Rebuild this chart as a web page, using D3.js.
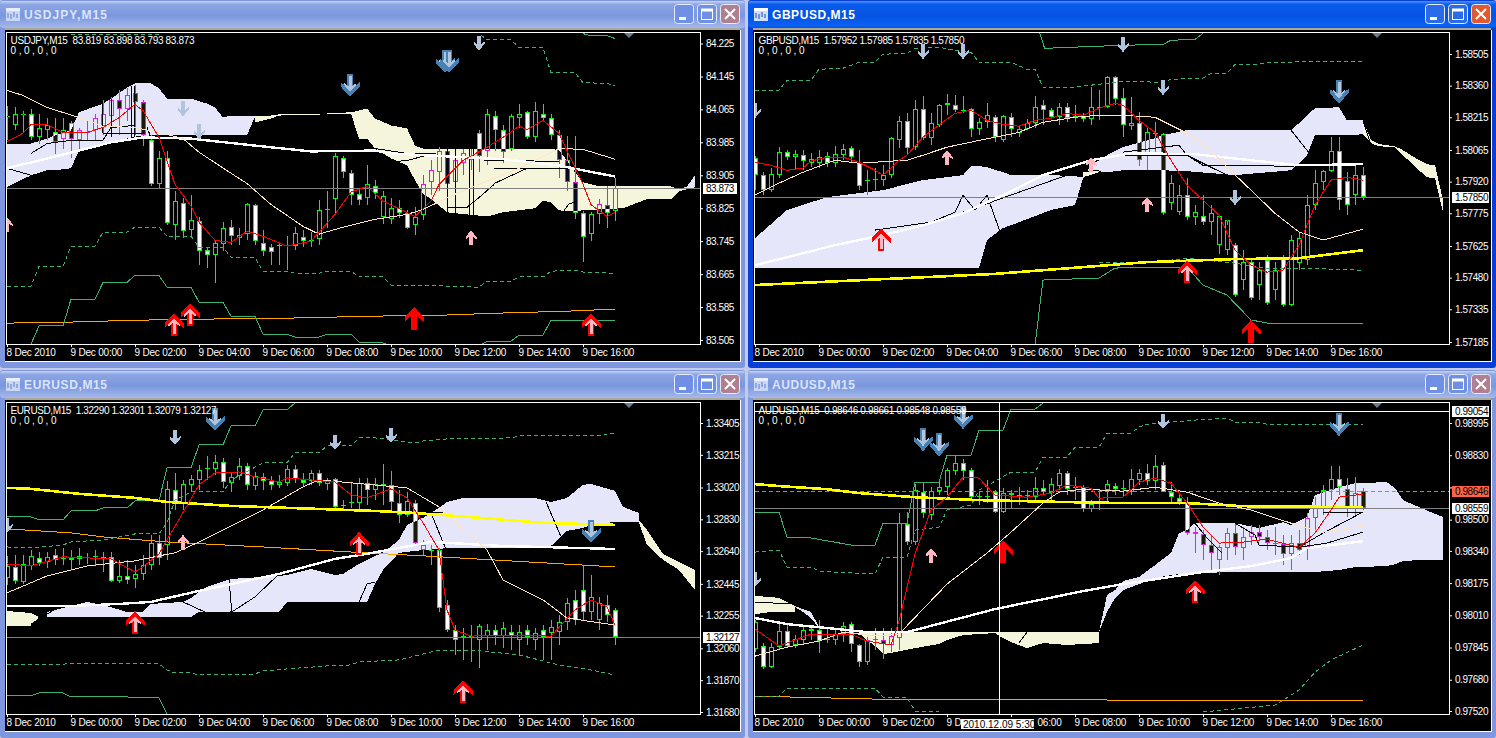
<!DOCTYPE html>
<html><head><meta charset="utf-8">
<script src="https://cdnjs.cloudflare.com/ajax/libs/d3/7.8.5/d3.min.js"></script>
<style>
html,body{margin:0;padding:0;background:#c3cbe8;overflow:hidden}
svg{display:block}
text{font-family:"Liberation Sans",Arial,sans-serif}
.ax text{font-size:10px;fill:#fff;font-family:"Liberation Sans",Arial,sans-serif}
.ay text{letter-spacing:-.45px}
.ax.tx text{letter-spacing:-.2px}
.ax line{stroke:#fff}
.ax path{display:none}
</style></head><body>
<script>
// ---------- shared axis text ----------
const timeTickBars=[0,8,16,24,32,40,48,56,64,72];
const timeLabels=["8 Dec 2010","9 Dec 00:00","9 Dec 02:00","9 Dec 04:00","9 Dec 06:00","9 Dec 08:00","9 Dec 10:00","9 Dec 12:00","9 Dec 14:00","9 Dec 16:00"];
const audTimeLabels=["8 Dec 2010","9 Dec 00:00","9 Dec 02:00","9 D","06:00","9 Dec 08:00","9 Dec 10:00","9 Dec 12:00","9 Dec 14:00","9 Dec 16:00"];

// ---------- USDJPY ----------
const usdTicks=[84.225,84.145,84.065,83.985,83.905,83.825,83.745,83.665,83.585,83.505];
const usdOpen=[84.050,84.026,84.053,84.055,83.997,84.014,84.011,83.994,84.031,83.990,84.011,84.014,84.024,84.048,84.089,84.065,84.104,84.082,83.990,83.885,83.948,83.784,83.837,83.771,83.793,83.723,83.711,83.738,83.779,83.752,83.762,83.832,83.740,83.730,83.735,83.733,83.733,83.755,83.745,83.750,83.820,83.847,83.948,83.910,83.859,83.849,83.878,83.803,83.798,83.825,83.813,83.784,83.808,83.888,83.912,83.965,83.888,83.936,83.941,84.007,83.965,84.050,84.014,83.970,84.045,84.058,83.997,84.055,84.043,84.004,83.941,83.888,83.813,83.762,83.810,83.832,83.819];
const usdHigh=[84.074,84.070,84.062,84.065,84.055,84.043,84.045,84.045,84.038,84.019,84.038,84.055,84.087,84.096,84.111,84.116,84.125,84.087,84.002,83.965,83.965,83.868,83.849,83.856,83.803,83.730,83.747,83.791,83.796,83.776,83.837,83.835,83.771,83.738,83.738,83.757,83.779,83.771,83.767,83.844,83.868,83.958,83.953,83.917,83.873,83.931,83.893,83.868,83.849,83.844,83.820,83.827,83.905,83.941,83.973,83.970,83.965,83.970,83.970,84.014,84.065,84.060,84.028,84.055,84.079,84.062,84.084,84.077,84.053,84.014,84.000,84.000,83.818,83.815,83.847,83.878,83.898];
const usdLow=[83.990,84.016,84.009,83.990,83.982,83.990,83.956,83.970,83.948,83.970,83.990,83.990,84.002,84.002,84.002,84.038,84.002,83.975,83.878,83.873,83.784,83.747,83.752,83.752,83.687,83.679,83.643,83.721,83.735,83.735,83.747,83.735,83.708,83.687,83.687,83.675,83.723,83.730,83.730,83.735,83.776,83.810,83.898,83.832,83.834,83.834,83.847,83.786,83.786,83.801,83.774,83.759,83.796,83.856,83.868,83.808,83.868,83.905,83.917,83.912,83.929,83.965,83.936,83.965,84.019,83.992,83.985,84.038,83.990,83.898,83.868,83.798,83.694,83.745,83.786,83.776,83.793];
const usdClose=[84.050,84.055,84.053,83.997,84.019,84.026,83.987,84.016,83.994,84.014,84.009,84.045,84.053,84.089,84.065,84.101,84.084,84.002,83.885,83.948,83.788,83.842,83.769,83.796,83.721,83.711,83.740,83.776,83.757,83.759,83.835,83.745,83.721,83.718,83.733,83.735,83.764,83.745,83.747,83.820,83.822,83.953,83.912,83.856,83.844,83.885,83.861,83.854,83.825,83.813,83.776,83.803,83.885,83.917,83.965,83.885,83.941,83.958,83.944,83.953,84.055,84.016,83.961,84.048,84.053,83.997,84.062,84.043,84.002,83.941,83.888,83.813,83.755,83.810,83.835,83.813,83.873];
const usdRed=[[0,83.987],[2,84.007],[3,84.028],[5,84.028],[7,84.009],[10,84.009],[12,84.021],[14,84.045],[16,84.077],[17,84.062],[19,83.997],[21,83.883],[23,83.830],[24,83.791],[26,83.747],[28,83.742],[30,83.769],[32,83.757],[35,83.733],[38,83.745],[41,83.810],[43,83.864],[45,83.878],[47,83.842],[50,83.815],[51,83.805],[53,83.842],[54,83.883],[57,83.941],[60,83.973],[62,83.997],[64,84.024],[65,84.016],[67,84.038],[69,84.007],[70,83.965],[72,83.883],[73,83.834],[75,83.805],[76,83.815]];
const usdBeige=[[0,84.111],[2,84.099],[5,84.070],[9,84.045],[12,84.024],[16,84.021],[19,84.009],[22,83.994],[24,83.961],[28,83.910],[30,83.885],[33,83.834],[37,83.781],[39,83.762],[42,83.779],[46,83.798],[50,83.810],[52,83.822],[56,83.859],[59,83.883],[64,83.922],[69,83.970],[72,83.968],[76,83.944]];
const usdWhite=[[0,83.922],[4,83.941],[9,83.965],[13,83.985],[17,83.997],[23,83.994],[31,83.977],[38,83.963],[46,83.965],[48,83.958],[62,83.944],[69,83.929],[72,83.917],[76,83.902]];
const usdOrange=[[0,83.546],[7,83.548],[16,83.553],[26,83.556],[35,83.558],[46,83.563],[54,83.565],[61,83.570],[70,83.575],[76,83.580]];
const usdDashLow=[[0,83.636],[3,83.636],[4,83.684],[7,83.684],[8,83.733],[11,83.733],[12,83.767],[15,83.767],[16,83.779],[19,83.779],[20,83.757],[23,83.757],[24,83.730],[27,83.730],[28,83.706],[31,83.706],[32,83.672],[35,83.672],[36,83.667],[39,83.667],[40,83.672],[43,83.672],[44,83.658],[47,83.658],[48,83.638],[55,83.636],[59,83.633],[60,83.648],[63,83.648],[64,83.658],[67,83.658],[68,83.672],[71,83.675],[72,83.670],[76,83.667]];
const usdSolidLow=[[3,83.495],[4,83.539],[7,83.539],[8,83.604],[11,83.604],[12,83.645],[15,83.645],[16,83.662],[19,83.662],[20,83.633],[23,83.633],[24,83.597],[27,83.597],[28,83.563],[31,83.563],[32,83.519],[35,83.519],[36,83.512],[39,83.512],[40,83.519],[43,83.519],[44,83.500],[47,83.498],[48,83.490],[59,83.490],[60,83.502],[63,83.502],[64,83.517],[67,83.517],[68,83.553],[72,83.553],[76,83.553]];
const usdDashTop=[[8,84.247],[19,84.247],[20,84.260],[58,84.260],[59,84.249],[60,84.234],[63,84.234],[64,84.215],[67,84.215],[68,84.154],[71,84.154],[72,84.130],[75,84.128],[76,84.123]];
const usdSolidTop=[[72,84.249],[73,84.244],[75,84.244],[76,84.237]];
const usdLavender=[[0,83.982,83.876],[3,83.982,83.905],[5,83.994,83.917],[6,84.002,83.917],[8,84.014,83.922],[9,84.058,83.965],[12,84.079,83.977],[13,84.091,83.985],[15,84.118,83.994],[16,84.128,83.999],[18,84.128,84.002],[19,84.116,84.002],[20,84.091,84.002],[23,84.091,84.002],[25,84.079,84.002],[26,84.070,84.002],[27,84.045,84.002],[28,84.050,84.002],[30,84.050,84.002],[31,84.050,84.048]];
const usdCream=[[31,84.050,84.033],[33,84.050,84.043],[34,84.053,84.050],[40,84.055,84.053],[43,84.058,84.055],[44,84.062,83.994],[45,84.067,83.994],[46,84.043,83.970],[48,84.026,83.946],[50,84.019,83.929],[51,83.977,83.893],[52,83.970,83.861],[54,83.970,83.832],[55,83.970,83.815],[60,83.970,83.805],[62,83.970,83.815],[66,83.970,83.825],[67,83.970,83.844],[68,83.970,83.839],[69,83.965,83.820],[70,83.941,83.818],[71,83.912,83.818],[72,83.888,83.820],[74,83.878,83.822],[77,83.878,83.825],[80,83.878,83.847],[83,83.878,83.847],[84,83.871,83.866]];
const usdLavenderTail=[[84,83.871,83.866],[85,83.878,83.871],[86,83.905,83.876]];
const usdBlack=[
 [[0,83.922],[3,83.905]],
 [[3,83.958],[5,83.982],[8,83.990],[12,83.990],[13,84.021],[16,84.026]],
 [[12,84.007],[17,84.007]],
 [[11.9,84.091],[11.9,84.007]],[[13.1,84.091],[13.1,83.997]],[[15.5,84.123],[15.5,83.997]],[[15.9,84.123],[15.9,83.997]],[[17.5,84.021],[18,83.997]],
 [[46,83.970],[50,83.958],[53.6,83.958]],[[46,83.934],[50,83.941],[53.4,83.958]],
 [[55,83.973],[55,83.808]],[[56,83.973],[56,83.808]],[[57.75,83.973],[57.75,83.808]],[[58.25,83.973],[58.25,83.808]],
 [[55,83.827],[57.5,83.827],[59,83.851],[60.9,83.883]],[[59.6,83.941],[69,83.939]],[[60.9,83.922],[70,83.922]],[[60.9,83.885],[65,83.922]],
 [[69.6,83.818],[70.2,83.835],[71.2,83.842]]];
const usdMarks=[["dL",42.9,84.096],["dL",54.75,84.154],["dL",55.25,84.154],["dS",59,84.208],["dS",22,84.048],["dS",24,83.992],["uP",20.9,83.570],["uP",22.9,83.594],["uP",73,83.570],["uR",50.9,83.585],["uS",58,83.771],["uS",0,83.803]];

// ---------- GBPUSD ----------
const gbpTicks=[1.58505,1.58360,1.58215,1.58065,1.57920,1.57775,1.57625,1.57480,1.57335,1.57185];
const gbpOpen=[1.58027,1.57950,1.57881,1.57950,1.58055,1.58032,1.58041,1.58004,1.58004,1.58037,1.58004,1.58041,1.58073,1.58004,1.57922,1.57927,1.57927,1.57950,1.58110,1.58197,1.58078,1.58252,1.58119,1.58179,1.58270,1.58270,1.58247,1.58252,1.58160,1.58192,1.58215,1.58110,1.58215,1.58142,1.58160,1.58188,1.58270,1.58247,1.58215,1.58261,1.58220,1.58220,1.58206,1.58256,1.58261,1.58398,1.58302,1.58174,1.58188,1.58041,1.58142,1.58137,1.57821,1.57780,1.57858,1.57757,1.57762,1.57734,1.57629,1.57606,1.57629,1.57469,1.57551,1.57446,1.57560,1.57423,1.57569,1.57354,1.57546,1.57560,1.57812,1.57917,1.57968,1.58059,1.57922,1.57858,1.57952];
const gbpHigh=[1.58037,1.57963,1.57982,1.58078,1.58064,1.58064,1.58064,1.58050,1.58064,1.58055,1.58082,1.58092,1.58082,1.58064,1.57972,1.57982,1.57995,1.58124,1.58220,1.58233,1.58293,1.58311,1.58233,1.58275,1.58320,1.58316,1.58311,1.58256,1.58211,1.58279,1.58224,1.58224,1.58233,1.58179,1.58206,1.58311,1.58293,1.58256,1.58279,1.58279,1.58270,1.58233,1.58353,1.58339,1.58403,1.58403,1.58348,1.58307,1.58238,1.58165,1.58192,1.58142,1.57950,1.57904,1.57936,1.57812,1.57858,1.57812,1.57762,1.57720,1.57638,1.57606,1.57569,1.57551,1.57583,1.57551,1.57583,1.57675,1.57689,1.57858,1.57972,1.57972,1.58124,1.58124,1.57963,1.57991,1.57985];
const gbpLow=[1.57881,1.57858,1.57872,1.57936,1.58018,1.57972,1.57972,1.57986,1.57982,1.57986,1.57986,1.58018,1.58004,1.57881,1.57858,1.57881,1.57899,1.57936,1.58073,1.58041,1.58064,1.58110,1.58087,1.58169,1.58224,1.58238,1.58233,1.58124,1.58133,1.58165,1.58101,1.58101,1.58124,1.58124,1.58156,1.58165,1.58179,1.58211,1.58179,1.58192,1.58192,1.58192,1.58179,1.58201,1.58256,1.58270,1.58124,1.58156,1.57991,1.57972,1.58041,1.57766,1.57789,1.57766,1.57743,1.57720,1.57720,1.57675,1.57588,1.57583,1.57391,1.57423,1.57377,1.57377,1.57354,1.57377,1.57345,1.57350,1.57514,1.57537,1.57789,1.57881,1.57963,1.57789,1.57766,1.57812,1.57835];
const gbpClose=[1.57950,1.57881,1.57954,1.58055,1.58032,1.58046,1.58014,1.58023,1.58032,1.58004,1.58046,1.58069,1.58032,1.57899,1.57927,1.57931,1.57950,1.58119,1.58197,1.58073,1.58252,1.58119,1.58188,1.58270,1.58279,1.58247,1.58243,1.58160,1.58192,1.58224,1.58124,1.58220,1.58160,1.58160,1.58188,1.58261,1.58247,1.58215,1.58261,1.58211,1.58215,1.58206,1.58261,1.58261,1.58398,1.58298,1.58179,1.58188,1.58018,1.58146,1.58137,1.57775,1.57913,1.57858,1.57757,1.57780,1.57734,1.57775,1.57762,1.57743,1.57400,1.57551,1.57386,1.57514,1.57363,1.57514,1.57354,1.57652,1.57661,1.57812,1.57913,1.57968,1.58059,1.57835,1.57812,1.57950,1.57850];
const gbpRed=[[0,1.58009],[2,1.57995],[4,1.57972],[6,1.57982],[7,1.58014],[9,1.58032],[11,1.58032],[13,1.58009],[15,1.57972],[16,1.57950],[17,1.57982],[18,1.58018],[19,1.58041],[21,1.58124],[23,1.58179],[25,1.58233],[27,1.58247],[29,1.58201],[31,1.58183],[33,1.58174],[35,1.58201],[37,1.58211],[39,1.58233],[41,1.58224],[43,1.58256],[45,1.58279],[46,1.58270],[48,1.58201],[50,1.58146],[52,1.58018],[54,1.57904],[56,1.57835],[58,1.57766],[60,1.57606],[62,1.57537],[64,1.57505],[66,1.57514],[68,1.57629],[70,1.57812],[72,1.57927],[74,1.57940],[76,1.57927]];
const gbpBeige=[[0,1.57858],[3,1.57913],[6,1.57963],[10,1.58018],[13,1.58004],[17,1.58014],[19,1.58018],[21,1.58041],[24,1.58078],[27,1.58101],[30,1.58124],[33,1.58146],[36,1.58192],[40,1.58215],[43,1.58224],[46,1.58224],[50,1.58215],[54,1.58142],[57,1.58064],[59,1.57986],[62,1.57881],[65,1.57775],[68,1.57689],[71,1.57652],[76,1.57702]];
const gbpWhite=[[0,1.57537],[5,1.57583],[10,1.57629],[16,1.57675],[21,1.57720],[26,1.57775],[31,1.57858],[36,1.57950],[42,1.58018],[47,1.58050],[55,1.58046],[62,1.58018],[68,1.57995],[76,1.58000]];
const gbpYellow=[[0,1.57446],[30,1.57497],[49,1.57551],[60,1.57565],[68,1.57569],[76,1.57606]];
const gbpDashTop=[[0,1.58339],[3,1.58339],[4,1.58385],[7,1.58385],[8,1.58435],[11,1.58440],[13,1.58467],[15,1.58467],[16,1.58504],[19,1.58508],[20,1.58531],[23,1.58536],[25,1.58522],[27,1.58513],[28,1.58467],[32,1.58467],[34,1.58435],[35,1.58435],[36,1.58353],[40,1.58353],[46,1.58380],[51,1.58375],[52,1.58389],[56,1.58394],[57,1.58417],[59,1.58417],[60,1.58458],[63,1.58458],[64,1.58467],[76,1.58472]];
const gbpDashLow=[[43,1.57551],[50,1.57551],[54,1.57569],[60,1.57546],[64,1.57523],[69,1.57523],[76,1.57514]];
const gbpSolidTop=[[35.6,1.58600],[36.2,1.58531],[46,1.58545],[51,1.58549],[52,1.58568],[55,1.58572],[56,1.58600]];
const gbpSolidLow=[[35,1.57171],[36,1.57469],[43,1.57478],[45,1.57524],[54,1.57528],[56,1.57446],[59,1.57400],[62,1.57286],[64,1.57272],[76,1.57272]];
const gbpLavender=[[0,1.57661,1.57524],[4,1.57790,1.57524],[9,1.57849,1.57524],[16,1.57881,1.57524],[21,1.57927,1.57524],[26,1.57950,1.57524],[27,1.57991,1.57524],[28,1.57991,1.57524],[29,1.57986,1.57652],[31,1.57963,1.57707],[32,1.57950,1.57720],[37,1.57950,1.57790],[40,1.57945,1.57812],[41,1.57940,1.57936],[42,1.57995,1.57972],[44,1.58041,1.57963],[46,1.58078,1.57972],[50,1.58119,1.57972],[51,1.58133,1.57972],[54,1.58156,1.57968],[60,1.58156,1.57950],[67,1.58156,1.57972],[68,1.58188,1.58004],[69,1.58224,1.58041],[70,1.58256,1.58133],[73,1.58261,1.58133],[74,1.58201,1.58133],[76,1.58201,1.58137]];
const gbpCream=[[77,1.58110,1.58096],[78,1.58092,1.58082],[80,1.58082,1.58078],[81,1.58064,1.58041],[83,1.58018,1.57972],[84,1.58000,1.57940],[85,1.57995,1.57936],[86,1.57835,1.57780]];
const gbpCreamPatch=[[41,1.57963,1.57940],[43,1.57972,1.57963]];
const gbpLink=[[76,1.58201,1.58137],[77,1.58110,1.58096]];
const gbpBlack=[
 [[46,1.58055],[53,1.58087],[54,1.58041],[56,1.58004],[59,1.57950]],
 [[46,1.58041],[54,1.58041],[56,1.57995],[63,1.57995],[68,1.57986]],
 [[67,1.58156],[69.5,1.58041]],[[76,1.58201],[77,1.58087]],
 [[15,1.57698],[22,1.57734],[25,1.57780],[26,1.57858],[27.5,1.57790],[29,1.57858],[31,1.57652]],
 [[26,1.57780],[40,1.57963],[43,1.57972]]];
const gbpMarks=[["dS",21,1.58481],["dS",26,1.58481],["dS",46,1.58513],["dS",51,1.58316],["dS",60,1.57812],["dS",0,1.58211],["dL",73,1.58279],["uP",15.75,1.57707],["uP",54,1.57560],["uR",62,1.57286],["uS",24,1.58064],["uS",42,1.58032],["uS",49,1.57849]];

// ---------- EURUSD ----------
const eurTicks=[1.33405,1.33215,1.33020,1.32830,1.32640,1.32445,1.32255,1.32060,1.31870,1.31680];
const eurOpen=[1.32480,1.32546,1.32456,1.32552,1.32600,1.32576,1.32618,1.32594,1.32600,1.32612,1.32600,1.32606,1.32600,1.32606,1.32462,1.32492,1.32474,1.32504,1.32558,1.32689,1.32677,1.33006,1.32928,1.33035,1.33065,1.33137,1.33131,1.33173,1.33047,1.33089,1.33149,1.33029,1.33083,1.33059,1.33035,1.33047,1.33131,1.33065,1.33059,1.33107,1.33041,1.33071,1.32910,1.32928,1.32928,1.33047,1.33006,1.33035,1.33035,1.32928,1.32856,1.32928,1.32647,1.32647,1.32647,1.32319,1.32169,1.32133,1.32127,1.32109,1.32133,1.32169,1.32133,1.32157,1.32109,1.32169,1.32109,1.32169,1.32151,1.32157,1.32217,1.32349,1.32408,1.32277,1.32229,1.32319,1.32290];
const eurHigh=[1.32612,1.32618,1.32618,1.32647,1.32635,1.32635,1.32653,1.32659,1.32647,1.32659,1.32629,1.32647,1.32635,1.32635,1.32588,1.32588,1.32558,1.32618,1.32737,1.32737,1.33059,1.33107,1.33065,1.33095,1.33155,1.33209,1.33215,1.33197,1.33113,1.33197,1.33167,1.33113,1.33107,1.33089,1.33095,1.33155,1.33155,1.33107,1.33125,1.33125,1.33077,1.33077,1.32946,1.33053,1.33077,1.33077,1.33077,1.33161,1.33119,1.33006,1.32994,1.32946,1.32707,1.32677,1.32659,1.32349,1.32199,1.32181,1.32199,1.32205,1.32205,1.32199,1.32217,1.32199,1.32199,1.32199,1.32181,1.32199,1.32229,1.32259,1.32361,1.32408,1.32558,1.32498,1.32367,1.32379,1.32301];
const eurLow=[1.32438,1.32444,1.32444,1.32528,1.32552,1.32540,1.32558,1.32558,1.32528,1.32558,1.32564,1.32552,1.32516,1.32456,1.32450,1.32444,1.32420,1.32468,1.32528,1.32558,1.32588,1.32886,1.32886,1.32994,1.33006,1.33065,1.33095,1.33018,1.32994,1.33065,1.33006,1.33006,1.33006,1.33006,1.33018,1.33029,1.33047,1.33029,1.33035,1.33029,1.33006,1.32886,1.32886,1.32898,1.32886,1.32916,1.32946,1.32916,1.32886,1.32809,1.32844,1.32677,1.32612,1.32558,1.32277,1.32157,1.32019,1.31990,1.31978,1.31942,1.32049,1.32079,1.32061,1.32049,1.32019,1.32079,1.32049,1.31990,1.31990,1.32079,1.32169,1.32199,1.32229,1.32229,1.32169,1.32217,1.32079];
const eurClose=[1.32552,1.32462,1.32564,1.32612,1.32570,1.32606,1.32588,1.32600,1.32588,1.32594,1.32606,1.32612,1.32606,1.32462,1.32492,1.32468,1.32504,1.32558,1.32689,1.32600,1.33012,1.32928,1.33041,1.33071,1.33125,1.33131,1.33173,1.33053,1.33083,1.33149,1.33035,1.33089,1.33059,1.33035,1.33053,1.33131,1.33071,1.33047,1.33107,1.33047,1.33059,1.32904,1.32916,1.32934,1.33047,1.33006,1.33041,1.33041,1.32934,1.32856,1.32940,1.32689,1.32677,1.32641,1.32301,1.32169,1.32109,1.32127,1.32133,1.32193,1.32169,1.32133,1.32181,1.32133,1.32157,1.32127,1.32151,1.32127,1.32187,1.32217,1.32331,1.32229,1.32277,1.32367,1.32331,1.32259,1.32127];
const eurYellow=[[0,1.33018],[3,1.33012],[9,1.32982],[16,1.32958],[20,1.32934],[28,1.32910],[39,1.32892],[46,1.32880],[51,1.32868],[59,1.32839],[67,1.32809],[76,1.32797]];
const eurOrange=[[0,1.32773],[8,1.32749],[12,1.32725],[20,1.32695],[32,1.32665],[43,1.32635],[52,1.32612],[65,1.32576],[76,1.32546]];
const eurBeige=[[0,1.32391],[5,1.32492],[10,1.32552],[16,1.32582],[19,1.32612],[21,1.32630],[24,1.32695],[32,1.32886],[37,1.33024],[39,1.33065],[46,1.33035],[50,1.33018],[54,1.32904],[60,1.32647],[62,1.32468],[67,1.32349],[70,1.32241],[76,1.32199]];
const eurRed=[[0,1.32564],[3,1.32552],[7,1.32606],[13,1.32594],[16,1.32516],[17,1.32546],[19,1.32624],[24,1.33035],[26,1.33107],[29,1.33113],[31,1.33083],[34,1.33053],[35,1.33077],[38,1.33065],[41,1.33053],[43,1.32976],[45,1.32958],[48,1.33012],[50,1.32958],[52,1.32809],[54,1.32647],[55,1.32289],[56,1.32169],[58,1.32133],[62,1.32139],[68,1.32133],[71,1.32289],[73,1.32349],[75,1.32307],[76,1.32199]];
const eurWhite=[[0,1.32313],[8,1.32313],[14,1.32325],[18,1.32337],[24,1.32403],[34,1.32504],[41,1.32594],[45,1.32624],[53,1.32695],[62,1.32671],[76,1.32653]];
const eurSolidTop=[[0,1.32844],[3,1.32844],[4,1.32827],[7,1.32827],[8,1.32880],[11,1.32880],[12,1.32898],[15,1.32898],[16,1.32940],[19,1.32940],[20,1.33137],[23,1.33137],[24,1.33274],[27,1.33274],[28,1.33388],[31,1.33388],[32,1.33483],[35,1.33483],[36,1.33525]];
const eurSolidLow=[[0,1.31776],[3,1.31776],[4,1.31794],[7,1.31794],[8,1.31770],[15,1.31770],[16,1.31764],[19,1.31764],[20,1.31668]];
const eurDashTop=[[0,1.32665],[3,1.32659],[7,1.32677],[8,1.32695],[12,1.32707],[16,1.32743],[19,1.32743],[20,1.32809],[21,1.32946],[23,1.32994],[27,1.32994],[28,1.33065],[32,1.33167],[35,1.33167],[36,1.33227],[39,1.33227],[40,1.33269],[43,1.33269],[44,1.33316],[46,1.33316],[51,1.33286],[52,1.33298],[55,1.33310],[63,1.33316],[64,1.33328],[72,1.33328],[75,1.33334],[76,1.33346]];
const eurDashLow=[[0,1.31961],[8,1.31967],[19,1.31967],[20,1.31931],[21,1.31913],[23,1.31913],[24,1.31901],[31,1.31907],[32,1.31925],[35,1.31937],[40,1.31955],[43,1.31961],[44,1.31979],[49,1.31991],[54,1.32050],[58,1.32050],[64,1.32021],[69,1.31961],[73,1.31931],[76,1.31901]];
const eurLavender=[[5,1.32277,1.32248],[7,1.32301,1.32248],[8,1.32313,1.32248],[10,1.32337,1.32248],[12,1.32319,1.32248],[15,1.32277,1.32248],[17,1.32277,1.32248],[18,1.32325,1.32248],[22,1.32337,1.32248],[23,1.32361,1.32248],[24,1.32397,1.32277],[25,1.32427,1.32277],[28,1.32474,1.32277],[34,1.32492,1.32277],[35,1.32498,1.32337],[38,1.32534,1.32337],[41,1.32498,1.32337],[42,1.32504,1.32337],[44,1.32564,1.32337],[45,1.32588,1.32337],[46,1.32612,1.32444],[47,1.32630,1.32528],[49,1.32707,1.32630],[50,1.32797,1.32636],[52,1.32839,1.32647],[54,1.32898,1.32653],[55,1.32934,1.32659],[57,1.32958,1.32659],[66,1.32958,1.32659],[68,1.32934,1.32671],[70,1.32958,1.32761],[72,1.33036,1.32778],[73,1.33041,1.32797],[76,1.33000,1.32815],[77,1.32904,1.32815],[79,1.32868,1.32815]];
const eurCream=[[79,1.32826,1.32809],[80,1.32767,1.32677],[82,1.32624,1.32588],[84,1.32576,1.32528],[86,1.32528,1.32408]];
const eurCreamLeft=[[0,1.32283,1.32194],[3,1.32271,1.32194],[4,1.32248,1.32248]];
const eurBlack=[
 [[3,1.32203],[5,1.32265],[7,1.32319],[9,1.32337]],[[27.75,1.32474],[28.1,1.32277]],[[28.1,1.32277],[31,1.32367],[33.75,1.32492]],
 [[22,1.32337],[25,1.32271],[28,1.32277]],[[44,1.32337],[45,1.32444],[46,1.32456]],[[67.4,1.32932],[69.2,1.32731]],[[53,1.32868],[55,1.32636]],[[51,1.32868],[54.5,1.32868]]];
const eurMarks=[["dS",21,1.33274],["dS",41,1.33244],["dS",48,1.33286],["dS",0,1.32749],["dL",26,1.33358],["dL",73,1.32689],["uS",22,1.32737],["uP",44,1.32755],["uP",16,1.32283],["uP",57,1.31871]];

// ---------- AUDUSD ----------
const audTicks=[0.98995,0.98830,0.98665,0.98500,0.98340,0.98175,0.98010,0.97845,0.97680,0.97520];
const audOpen=[.97837,.97853,.97745,.97847,.97929,.97858,.97883,.97929,.97934,.97883,.97883,.97914,.97965,.97858,.97771,.97883,.97883,.97858,.97893,.98477,.98385,.98641,.98523,.98646,.98666,.98748,.98789,.98754,.98615,.98615,.98641,.98539,.98636,.98626,.98620,.98615,.98661,.98636,.98672,.98738,.98666,.98666,.98554,.98585,.98651,.98672,.98656,.98641,.98702,.98738,.98697,.98779,.98641,.98610,.98585,.98436,.98426,.98370,.98293,.98354,.98431,.98354,.98411,.98436,.98411,.98380,.98375,.98324,.98380,.98359,.98508,.98559,.98651,.98708,.98656,.98559,.98646];
const audHigh=[.97986,.97868,.97868,.97970,.97960,.97909,.97960,.97960,.97986,.97945,.97945,.97975,.97975,.97863,.97899,.97945,.97945,.97945,.98534,.98539,.98682,.98692,.98666,.98702,.98764,.98825,.98810,.98764,.98646,.98702,.98651,.98661,.98651,.98666,.98651,.98718,.98702,.98713,.98759,.98748,.98718,.98677,.98600,.98651,.98702,.98687,.98702,.98759,.98759,.98784,.98830,.98795,.98692,.98636,.98615,.98462,.98446,.98421,.98370,.98457,.98482,.98462,.98472,.98472,.98446,.98462,.98421,.98421,.98446,.98534,.98615,.98677,.98774,.98774,.98713,.98718,.98661];
const audLow=[.97822,.97735,.97740,.97832,.97842,.97842,.97858,.97883,.97817,.97868,.97858,.97873,.97822,.97745,.97755,.97832,.97786,.97822,.97832,.98370,.98370,.98508,.98498,.98626,.98626,.98728,.98702,.98610,.98574,.98585,.98534,.98534,.98559,.98574,.98585,.98600,.98626,.98600,.98651,.98626,.98600,.98539,.98539,.98549,.98585,.98626,.98615,.98626,.98677,.98677,.98651,.98641,.98585,.98574,.98421,.98329,.98293,.98242,.98216,.98293,.98318,.98293,.98370,.98395,.98344,.98318,.98267,.98242,.98318,.98293,.98446,.98523,.98600,.98626,.98513,.98523,.98548];
const audClose=[.97975,.97745,.97847,.97929,.97853,.97888,.97934,.97940,.97878,.97888,.97914,.97955,.97863,.97771,.97883,.97888,.97863,.97904,.98482,.98385,.98651,.98534,.98646,.98666,.98754,.98789,.98748,.98615,.98620,.98620,.98539,.98636,.98626,.98620,.98626,.98661,.98641,.98682,.98738,.98656,.98666,.98554,.98579,.98590,.98682,.98656,.98661,.98708,.98738,.98697,.98774,.98641,.98615,.98590,.98431,.98426,.98370,.98329,.98359,.98431,.98359,.98411,.98436,.98411,.98380,.98375,.98324,.98380,.98344,.98508,.98559,.98651,.98708,.98666,.98559,.98636,.98559];
const audYellow=[[0,.98682],[3,.98672],[9,.98656],[13,.98636],[20,.98615],[28,.98600],[39,.98590],[46,.98585],[54,.98585],[61,.98569],[76,.98564]];
const audOrange=[[0,.97596],[5,.97591],[15,.97581],[46,.97576],[76,.97576]];
const audBeige=[[0,.97801],[4,.97847],[8,.97878],[11,.97924],[15,.97904],[18,.97914],[24,.98170],[29,.98329],[32,.98436],[36,.98585],[38,.98641],[41,.98656],[46,.98646],[50,.98666],[54,.98641],[58,.98585],[62,.98549],[67,.98482],[71,.98436],[76,.98467]];
const audRed=[[0,.97940],[3,.97853],[7,.97914],[12,.97914],[14,.97878],[17,.97858],[18,.97980],[20,.98324],[22,.98549],[24,.98615],[26,.98718],[28,.98713],[30,.98626],[34,.98615],[37,.98636],[39,.98677],[42,.98661],[43,.98610],[46,.98615],[48,.98692],[50,.98713],[52,.98687],[54,.98585],[56,.98462],[58,.98380],[61,.98385],[64,.98400],[68,.98359],[70,.98431],[72,.98549],[73,.98615],[76,.98631]];
const audWhite=[[0,.97996],[4,.97965],[9,.97945],[14,.97924],[19,.97924],[30,.98042],[41,.98134],[46,.98170],[56,.98232],[62,.98262],[67,.98303],[69,.98354],[76,.98390]];
const audSolidTop=[[0,.98539],[3,.98539],[4,.98411],[7,.98406],[12,.98370],[15,.98370],[16,.98482],[19,.98482],[20,.98692],[23,.98692],[24,.98830],[27,.98830],[28,.98958],[31,.98958],[32,.99066],[35,.99066],[36,.99097]];
const audDashTop=[[0,.98334],[3,.98344],[4,.98257],[7,.98257],[8,.98236],[15,.98221],[16,.98308],[19,.98308],[20,.98446],[23,.98462],[24,.98549],[27,.98574],[28,.98651],[32,.98743],[35,.98743],[36,.98820],[39,.98820],[40,.98871],[43,.98871],[44,.98943],[47,.98943],[48,.98974],[49,.98989],[55,.99010],[59,.99020],[60,.99000],[63,.99000],[64,.98989],[76,.98989]];
const audDashLow=[[0,.97596],[3,.97596],[4,.97637],[15,.97637],[16,.97591],[19,.97591],[20,.97520],[23,.97520]];
const audDashLate=[[56,.97515],[65,.97550],[68,.97627],[70,.97719],[72,.97781],[76,.97858]];
const audCreamLeft=[[0,.98109,.98016],[2,.98104,.98027],[3,.98098,.98027],[5,.98057,.98027]];
const audLavenderTip=[[5,.98057,.98052],[6,.98042,.98027],[7,.98027,.97996],[8,.97950,.97945]];
const audCream=[[13,.97924,.97919],[14,.97924,.97883],[15,.97924,.97853],[16,.97924,.97812],[17,.97924,.97817],[20,.97924,.97842],[23,.97924,.97863],[24,.97924,.97883],[26,.97924,.97909],[30,.97924,.97919],[31,.97924,.97893],[32,.97924,.97873],[34,.97924,.97842],[36,.97924,.97868],[39,.97924,.97858],[43,.97924,.97868]];
const audLavender=[[43,.97924,.97924],[44,.98114,.98027],[45,.98139,.98098],[46,.98185,.98139],[48,.98206,.98170],[50,.98267,.98201],[52,.98329,.98216],[53,.98431,.98221],[54,.98446,.98221],[55,.98482,.98226],[60,.98482,.98232],[63,.98457,.98232],[66,.98487,.98232],[67,.98472,.98232],[69,.98513,.98232],[70,.98626,.98232],[73,.98666,.98242],[75,.98687,.98257],[79,.98692,.98262],[80,.98661,.98272],[81,.98600,.98288],[83,.98564,.98293],[86,.98513,.98293]];
const audBlack=[
 [[0,.98078],[4.5,.98068]],[[33,.97868],[34,.97924]],[[55,.98482],[56.5,.98406],[58.4,.98329]],
 [[60,.98482],[62.5,.98421],[63,.98370],[68,.98359],[71,.98431],[76,.98539]],[[71,.98539],[76,.98539]],[[68,.98359],[71.5,.98380],[76,.98436]]];
const audMarks=[["dL",21,.98851],["dL",23,.98825],["dL",26,.98964],["dL",73,.98928],["dS",51,.98964],["dS",0,.98155],["uS",22,.98354],["uR",31,.98395],["uP",55,.98191]];
const audCrossBar=30.5, audCrossPrice=0.99054, audCrossLabel="2010.12.09 5:30";

// ---------- colours ----------
const cLav="#e6e6fa",cCream="#f5f5dc",cGreen="#3cb371",cRed="#ff0000",cBeige="#ffe4c4",cOrange="#ffa500",cYellow="#ffff00";

const panels=[
 {sym:"USDJPY,M15",active:false,win:[0,0,745,368],L:7,T:33,R:700,B:344,dom:[83.505,84.225],rng:[340,43.5],ticks:usdTicks,dec:3,
  o:usdOpen,h:usdHigh,l:usdLow,c:usdClose,labels:timeLabels,
  clouds:[[usdLavender,cLav],[usdCream,cCream],[usdLavenderTail,cLav]],black:usdBlack,marks:usdMarks,
  hw:184,
  lines:[[usdOrange,cOrange,1],[usdSolidLow,cGreen,1],[usdSolidTop,cGreen,1],[usdDashLow,cGreen,1,"4 3"],[usdDashTop,cGreen,1,"4 3"],[usdWhite,"#fff",2.4],[usdBeige,cBeige,1],[usdRed,cRed,1]]},
 {sym:"GBPUSD,M15",active:true,win:[748,0,748,368],L:755,T:33,R:1449,B:344,dom:[1.57185,1.58505],rng:[342,54],ticks:gbpTicks,dec:5,
  o:gbpOpen,h:gbpHigh,l:gbpLow,c:gbpClose,labels:timeLabels,
  clouds:[[gbpLavender,cLav],[gbpCreamPatch,cCream],[gbpLink,cCream],[gbpCream,cCream]],black:gbpBlack,marks:gbpMarks,
  hw:206,
  lines:[[gbpSolidLow,cGreen,1],[gbpSolidTop,cGreen,1],[gbpDashLow,cGreen,1,"4 3"],[gbpDashTop,cGreen,1,"4 3"],[gbpWhite,"#fff",2.4],[gbpYellow,cYellow,2.6],[gbpBeige,cBeige,1],[gbpRed,cRed,1]]},
 {sym:"EURUSD,M15",active:false,win:[0,370,745,368],L:7,T:403,R:700,B:714,dom:[1.31680,1.33405],rng:[712,423],ticks:eurTicks,dec:5,
  o:eurOpen,h:eurHigh,l:eurLow,c:eurClose,labels:timeLabels,
  clouds:[[eurLavender,cLav],[eurCream,cCream],[eurCreamLeft,cCream]],black:eurBlack,marks:eurMarks,
  hw:206,
  lines:[[eurOrange,cOrange,1],[eurSolidLow,cGreen,1],[eurSolidTop,cGreen,1],[eurDashLow,cGreen,1,"4 3"],[eurDashTop,cGreen,1,"4 3"],[eurWhite,"#fff",2.4],[eurYellow,cYellow,2.6],[eurBeige,cBeige,1],[eurRed,cRed,1]]},
 {sym:"AUDUSD,M15",active:false,win:[748,370,748,368],L:755,T:403,R:1449,B:714,dom:[0.97520,0.98995],rng:[711,423],ticks:audTicks,dec:5,
  o:audOpen,h:audHigh,l:audLow,c:audClose,bid:true,cross:true,labels:audTimeLabels,hideTick:0.98665,
  clouds:[[audCreamLeft,cCream],[audLavenderTip,cLav],[audCream,cCream],[audLavender,cLav]],black:audBlack,marks:audMarks,
  hw:208,
  lines:[[audOrange,cOrange,1],[audSolidTop,cGreen,1],[audDashLow,cGreen,1,"4 3"],[audDashLate,cGreen,1,"4 3"],[audDashTop,cGreen,1,"4 3"],[audWhite,"#fff",2.4],[audYellow,cYellow,2.6],[audBeige,cBeige,1],[audRed,cRed,1]]}
];

const svg=d3.select("body").append("svg").attr("width",1496).attr("height",738);
const defs=svg.append("defs");
function grad(id,stops){const g=defs.append("linearGradient").attr("id",id).attr("x1",0).attr("x2",0).attr("y1",0).attr("y2",1);
 stops.forEach(s=>g.append("stop").attr("offset",s[0]).attr("stop-color",s[1]));}
grad("titleOff",[[0,"#c9d5f5"],[.12,"#8da6e4"],[.55,"#7a97de"],[.92,"#9db2e8"],[1,"#aab9e6"]]);
grad("titleOn",[[0,"#4a94ff"],[.12,"#0a5ced"],[.55,"#0553e0"],[.92,"#0a62f5"],[1,"#0a50d8"]]);

const upLarge="M0,0L9.5,10V14.5L3,9V23H-3V9L-9.5,14.5V10Z";
const upInner="M0,5L6,11.5V13.5L1.5,10V21H-1.5V10L-6,13.5V11.5Z";
const upSmall="M0,0L5.5,6.5V9L1.8,6V15H-1.8V6L-5.5,9V6.5Z";

function drawPanel(p,idx){
 const [wx,wy,ww,wh]=p.win;
 // window chrome
 svg.append("rect").attr("x",wx).attr("y",wy).attr("width",ww).attr("height",wh).attr("rx",3)
   .attr("fill",p.active?"#0a3fd6":"#7f97de");
 svg.append("rect").attr("x",wx).attr("y",wy+1).attr("width",ww).attr("height",27).attr("rx",3)
   .attr("fill",`url(#${p.active?"titleOn":"titleOff"})`);
 svg.append("rect").attr("x",wx+5).attr("y",wy+28).attr("width",ww-10).attr("height",wh-34).attr("fill","#aca899");
 svg.append("rect").attr("x",wx+5).attr("y",wy+30).attr("width",ww-9).attr("height",wh-36).attr("fill","#000");
 svg.append("rect").attr("x",wx+ww-5).attr("y",wy+30).attr("width",1).attr("height",wh-36).attr("fill","#fff");
 svg.append("rect").attr("x",wx+5).attr("y",wy+wh-7).attr("width",ww-9).attr("height",1).attr("fill","#fff");
 // title icon
 const ic=svg.append("g").attr("transform",`translate(${wx+6},${wy+8})`);
 ic.append("rect").attr("width",14).attr("height",13).attr("fill",p.active?"#cfe0ff":"#c9d6f5");
 ic.append("rect").attr("y",0).attr("width",14).attr("height",3).attr("fill",p.active?"#fff":"#e8eefc");
 ic.append("path").attr("d","M2,10V5M5,11V6M8,9V4M11,10V6").attr("stroke",p.active?"#1048b0":"#5f7fc8").attr("fill","none");
 svg.append("text").attr("x",wx+24).attr("y",wy+19).attr("font-size",12).attr("font-weight","bold")
   .attr("textLength",83).attr("lengthAdjust","spacing").attr("fill",p.active?"#fff":"#dbe4f9").text(p.sym);
 // window buttons
 const bx=[wx+ww-71,wx+ww-48,wx+ww-25];
 bx.forEach((b,k)=>{
  const fill=k<2?(p.active?"#2a6bea":"#6f90e4"):(p.active?"#df5a2e":"#b07f90");
  svg.append("rect").attr("x",b+.5).attr("y",wy+4.5).attr("width",19).attr("height",19).attr("rx",3)
    .attr("fill",fill).attr("stroke","#e4ecfb");
  const g=svg.append("g").attr("transform",`translate(${b},${wy+4})`).attr("fill","none").attr("stroke","#fff");
  if(k==0) g.append("rect").attr("x",5).attr("y",13).attr("width",7).attr("height",3).attr("fill","#fff").attr("stroke","none");
  if(k==1){g.append("rect").attr("x",4.5).attr("y",5.5).attr("width",11).attr("height",10);g.append("rect").attr("x",4.5).attr("y",5).attr("width",11).attr("height",2).attr("fill","#fff");}
  if(k==2) g.append("path").attr("d","M5,5L15,15M15,5L5,15").attr("stroke-width",2);
 });

 const x=d3.scaleLinear().domain([0,(p.R-p.L)/8]).range([p.L,p.R]);
 const y=d3.scaleLinear().domain(p.dom).range(p.rng);

 defs.append("clipPath").attr("id","clip"+idx).append("rect").attr("x",p.L).attr("y",p.T).attr("width",p.R-p.L).attr("height",p.B-p.T);
 const plot=svg.append("g").attr("clip-path",`url(#clip${idx})`).style("isolation","isolate");
 plot.append("rect").attr("x",p.L).attr("y",p.T).attr("width",p.R-p.L).attr("height",p.B-p.T).attr("fill","#000");

 // clouds
 const area=d3.area().x(d=>x(d[0])).y0(d=>y(d[2])).y1(d=>y(d[1]));
 plot.selectAll("path.cloud").data(p.clouds).join("path").attr("class","cloud").attr("d",d=>area(d[0])).attr("fill",d=>d[1]).attr("shape-rendering","crispEdges");

 // candles, blended so they invert over the cloud
 const bars=d3.range(p.o.length).map(i=>({i,o:p.o[i],h:p.h[i],l:p.l[i],c:p.c[i]}));
 const snap=v=>Math.round(v);
 const gC=plot.selectAll("g.candle").data(bars).join("g").attr("class","candle").attr("shape-rendering","crispEdges");
 gC.each(function(d){
  const g=d3.select(this),cx=snap(x(d.i))+.5;
  const t=snap(y(Math.max(d.o,d.c))),b=snap(y(Math.min(d.o,d.c))),hi=snap(y(d.h)),lo=snap(y(d.l));
  const blend=s=>s.style("mix-blend-mode","difference");
  blend(g.append("path").attr("d",`M${cx},${hi}V${t}M${cx},${b}V${lo}`).attr("stroke","#00ff00").attr("fill","none"));
  if(b-t<2){ blend(g.append("path").attr("d",`M${cx-2.5},${t+.5}H${cx+2.5}`).attr("stroke","#00ff00")); return; }
  blend(g.append("rect").attr("x",cx-2).attr("y",t+.5).attr("width",4).attr("height",b-t-1).attr("fill","none").attr("stroke","#00ff00"));
  if(d.c<d.o) blend(g.append("rect").attr("x",cx-1.5).attr("y",t+1).attr("width",3).attr("height",Math.max(b-t-2,0)).attr("fill","#fff"));
 });

 // black Ichimoku lines, visible only across the cloud
 const line=d3.line().x(d=>x(d[0])).y(d=>y(d[1]));
 plot.selectAll("path.blk").data(p.black).join("path").attr("class","blk").attr("d",line).attr("fill","none").attr("stroke","#000").attr("stroke-width",1).attr("shape-rendering","crispEdges");

 // current price lines
 const last=p.c[p.c.length-1],lastO=p.o[p.o.length-1];
 plot.append("line").attr("x1",p.L).attr("x2",p.R).attr("y1",snap(y(last))+.5).attr("y2",snap(y(last))+.5).attr("stroke","#808080");
 if(p.bid) plot.append("line").attr("x1",p.L).attr("x2",p.R).attr("y1",snap(y(lastO))+.5).attr("y2",snap(y(lastO))+.5).attr("stroke","#ff6347").attr("stroke-dasharray","4 3");

 // indicators
 plot.selectAll("path.ind").data(p.lines).join("path").attr("class","ind").attr("d",d=>line(d[0])).attr("fill","none")
   .attr("stroke",d=>d[1]).attr("stroke-width",d=>d[2]).attr("stroke-dasharray",d=>d[3]||null).attr("shape-rendering","crispEdges");

 // scroll marker
 plot.append("path").attr("transform",`translate(${x(77.75)},${p.T})`).attr("d","M-5,0H5L0,5Z").attr("fill","#6a7a8e");

 // arrows
 plot.selectAll("g.mark").data(p.marks).join("g").attr("class","mark").attr("shape-rendering","crispEdges").each(function(d){
  const g=d3.select(this).attr("transform",`translate(${x(d[1])},${y(d[2])})${d[0][0]=="d"?" scale(1,-1)":""}`);
  const kind=d[0];
  if(kind=="dS") g.append("path").attr("d",upSmall).attr("fill","#b0c4de");
  if(kind=="uS") g.append("path").attr("d",upSmall).attr("fill","#ffb6c1");
  if(kind=="dL"){g.append("path").attr("d",upLarge).attr("fill","#4682b4");g.append("path").attr("d",upInner).attr("fill","#b0c4de");}
  if(kind=="uP"){g.append("path").attr("d",upLarge).attr("fill","#ff0000");g.append("path").attr("d",upInner).attr("fill","#ffb6c1");}
  if(kind=="uR") g.append("path").attr("d",upLarge).attr("fill","#ff0000");
 });

 // crosshair
 if(p.cross){
  plot.append("line").attr("x1",p.L).attr("x2",p.R).attr("y1",snap(y(audCrossPrice))+.5).attr("y2",snap(y(audCrossPrice))+.5).attr("stroke","#fff");
  plot.append("line").attr("x1",snap(x(audCrossBar))+.5).attr("x2",snap(x(audCrossBar))+.5).attr("y1",p.T).attr("y2",p.B).attr("stroke","#fff");
 }

 // plot frame
 svg.append("rect").attr("x",p.L-.5).attr("y",p.T-.5).attr("width",p.R-p.L+1).attr("height",p.B-p.T+1).attr("fill","none").attr("stroke","#fff").attr("shape-rendering","crispEdges");

 // header text
 const ohlc=[lastO,p.h[p.h.length-1],p.l[p.l.length-1],last].map(v=>v.toFixed(p.dec)).join(" ");
 svg.append("text").attr("x",p.L+3.5).attr("y",p.T+11).attr("font-size",10).attr("fill","#fff").style("white-space","pre")
   .attr("textLength",p.hw).attr("lengthAdjust","spacing").text(p.sym+"  "+ohlc);
 svg.append("text").attr("x",p.L+3.5).attr("y",p.T+21).attr("font-size",10).attr("fill","#fff").attr("textLength",46).text("0 , 0 , 0 , 0");

 // axes
 const ya=d3.axisRight(y).tickValues(p.ticks).tickFormat(d=>d===p.hideTick?"":d.toFixed(p.dec)).tickSize(3).tickPadding(3);
 svg.append("g").attr("class","ax ay").attr("transform",`translate(${p.R},0)`).call(ya);
 const xa=d3.axisBottom(x).tickValues(timeTickBars).tickFormat((d,i)=>p.labels[i]).tickSize(3).tickPadding(2);
 const gx=svg.append("g").attr("class","ax tx").attr("transform",`translate(0,${p.B})`).call(xa);
 gx.selectAll("text").attr("text-anchor","start").attr("dx",(d,i)=>p.labels[i]==="06:00"?26:-1);

 // price boxes
 function box(val,bg,fg){
  const yy=snap(y(val));
  svg.append("rect").attr("x",p.R+3).attr("y",yy-5).attr("width",p.dec==3?34:37).attr("height",11).attr("fill",bg);
  svg.append("text").attr("x",p.R+6).attr("y",yy+4).attr("font-size",10).attr("letter-spacing","-.45").attr("fill",fg).text(val.toFixed(p.dec));
 }
 box(last,"#fff","#000");
 if(p.bid) box(lastO,"#ff6347","#000");
 if(p.cross){
  box(audCrossPrice,"#fff","#000");
  const cx=x(audCrossBar);
  svg.append("rect").attr("x",cx-38).attr("y",p.B+5).attr("width",73).attr("height",10).attr("fill","#fff");
  svg.append("text").attr("x",cx-36).attr("y",p.B+13.5).attr("font-size",10).attr("fill","#000").text(audCrossLabel);
 }
}
panels.forEach(drawPanel);
</script>
</body></html>
